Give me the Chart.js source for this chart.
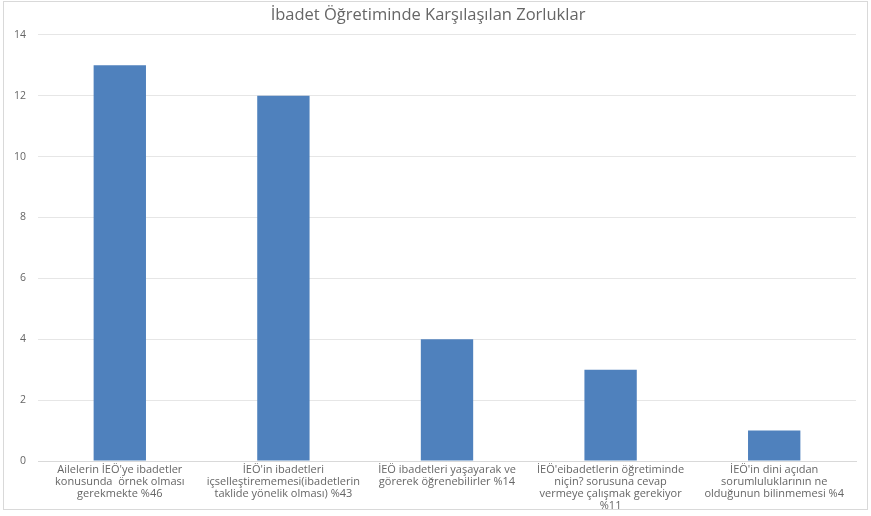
<!DOCTYPE html>
<html>
<head>
<meta charset="utf-8">
<script src="https://cdn.jsdelivr.net/npm/chart.js@4"></script>
<style>
    body { margin: 0; background: #fff; }
    #wrap { position: absolute; left: 0; top: 0; width: 871px; height: 516px; }
    #frame { position: absolute; left: 3px; top: 1px; width: 865px; height: 509px; border: 1px solid #d9d9d9; box-sizing: border-box; }
</style>
</head>
<body>
<div id="frame"></div>
<div id="wrap"><canvas id="myChart" width="871" height="516"></canvas></div>
<script>
const chartTitle = 'İbadet Öğretiminde Karşılaşılan Zorluklar';
const categories = [
    ['Ailelerin İEÖ\'ye ibadetler', 'konusunda  örnek olması', 'gerekmekte %46'],
    ['İEÖ\'in ibadetleri', 'içselleştirememesi(ibadetlerin', 'taklide yönelik olması) %43'],
    ['İEÖ ibadetleri yaşayarak ve', 'görerek öğrenebilirler %14'],
    ['İEÖ\'eibadetlerin öğretiminde', 'niçin? sorusuna cevap', 'vermeye çalışmak gerekiyor', '%11'],
    ['İEÖ\'in dini açıdan', 'sorumluluklarının ne', 'olduğunun bilinmemesi %4']
];
const values = [13, 12, 4, 3, 1];
const yTicks = [0, 2, 4, 6, 8, 10, 12, 14];

const textColor = '#666666';
const ctx = document.getElementById('myChart').getContext('2d');
new Chart(ctx, {
    type: 'bar',
    data: {
        labels: categories,
        datasets: [{
            data: values,
            backgroundColor: '#4f81bd',
            categoryPercentage: 1.0,
            barPercentage: 0.32
        }]
    },
    options: {
        responsive: false,
        animation: false,
        layout: { padding: { left: 0, right: 15, top: 0, bottom: 5 } },
        plugins: {
            legend: { display: false },
            tooltip: { enabled: false },
            title: {
                display: true,
                text: chartTitle,
                color: textColor,
                font: { family: 'Open Sans', size: 16.5, weight: 'normal', lineHeight: 1.2 },
                padding: { top: 5, bottom: 10 }
            }
        },
        scales: {
            x: {
                grid: { display: false, drawTicks: false },
                border: { color: '#d9d9d9' },
                ticks: {
                    color: textColor,
                    font: { family: 'Open Sans', size: 11, lineHeight: 1.1 },
                    maxRotation: 0,
                    autoSkip: false,
                    padding: 3
                },
                afterFit: function (scale) { scale.height = 50; }
            },
            y: {
                min: 0,
                max: 14,
                afterBuildTicks: function (scale) {
                    scale.ticks = yTicks.map(function (v) { return { value: v }; });
                },
                grid: { color: '#e6e6e6', drawTicks: false },
                border: { display: false },
                ticks: {
                    color: textColor,
                    font: { family: 'Open Sans', size: 10.5 },
                    padding: 12
                },
                afterFit: function (scale) { scale.width = 38; }
            }
        }
    }
});
</script>
</body>
</html>
